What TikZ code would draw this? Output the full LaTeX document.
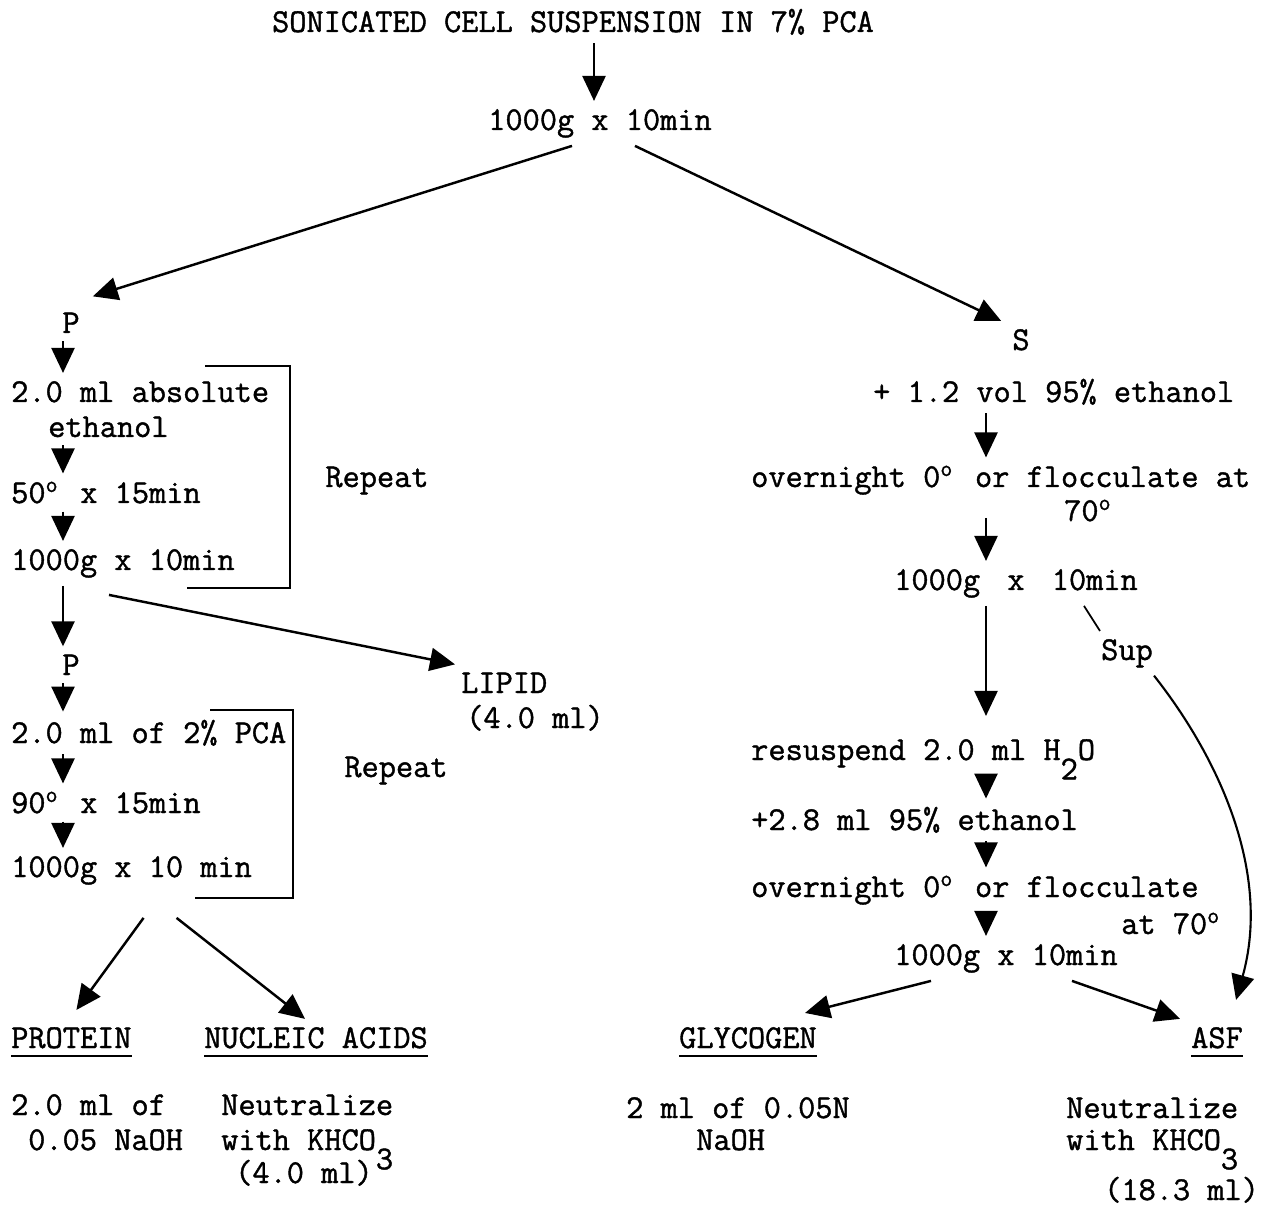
\documentclass[tikz,border=0pt]{standalone}
\usepackage{fontspec}
\setmonofont{Latin Modern Mono}[FakeBold=1.2]
\usetikzlibrary{arrows.meta}

% degree sign, lowered index, thick underline
\newcommand{\dg}{\makebox[0.525em][l]{\textsuperscript{o}}}
\newcommand{\lowr}[1]{\raisebox{-11pt}[0pt][0pt]{#1}}
\newsavebox{\ulbx}
\newcommand{\undl}[1]{\sbox{\ulbx}{#1}\rlap{\rule[-5pt]{\wd\ulbx}{1.3pt}}\usebox{\ulbx}}

\begin{document}
\begin{tikzpicture}[x=0.02cm, y=-0.02cm, line width=1.4pt,
  every node/.style={inner xsep=0pt, inner ysep=4pt, font=\ttfamily\fontsize{19}{19.5}\selectfont},
  txt/.style={anchor=base west},
  ctr/.style={anchor=base},
  tight/.style={inner ysep=0pt},
  flow/.style={-{Triangle[width=0.46cm,length=0.5cm]}},
  brkt/.style={line width=1.6pt}]

  \useasboundingbox (0,0) rectangle (1262,1209);

  % columns of the straight arrows
  \coordinate (colT) at (594,0);
  \coordinate (colL) at (63,0);
  \coordinate (colR) at (986,0);

  % start
  \node[ctr] (top) at (573,32) {SONICATED CELL SUSPENSION IN 7\% PCA};
  \node[ctr] (spin) at (600,130) {1000g x 10min};
  \draw[flow] (top.south -| colT) -- (spin.north -| colT);

  % pellet and supernatant
  \node[ctr] (pel) at (71,333) {P};
  \node[ctr] (supn) at (1021,350) {S};
  \draw[flow] ([xshift=-0.56cm]spin.south) -- ([xshift=0.24cm,yshift=0.16cm]pel.north east);
  \draw[flow] ([xshift=0.7cm]spin.south) -- ([xshift=-0.2cm]supn.north west);

  % left branch, first wash
  \node[txt] (eth1) at (10,402) {2.0 ml absolute};
  \node[txt] (eth2) at (47,437) {ethanol};
  \node[txt] (heat1) at (10,503) {50\dg{} x 15min};
  \node[txt] (spin1) at (10,570) {1000g x 10min};
  \draw[flow] (pel.south -| colL) -- (eth1.north -| colL);
  \draw[flow] (eth2.south -| colL) -- (heat1.north -| colL);
  \draw[flow] (heat1.south -| colL) -- (spin1.north -| colL);

  % repeat bracket
  \draw[brkt] (205,366) -- (290,366) -- (290,588) -- (187,588);
  \node[ctr] (rep1) at (377,487) {Repeat};

  % lipid
  \node[ctr] (pel2) at (71,675) {P};
  \node[txt] (lipid) at (460,693) {LIPID};
  \node[txt] (lipidv) at (465,728) {(4.0 ml)};
  \draw[flow] (spin1.south -| colL) -- (pel2.north -| colL);
  \draw[flow] ([xshift=-0.28cm,yshift=-0.18cm]spin1.south) -- ([xshift=-0.1cm]lipid.north west);

  % left branch, second wash
  \node[txt] (pca1) at (10,743) {2.0 ml of 2\% PCA};
  \node[txt] (heat2) at (10,813) {90\dg{} x 15min};
  \node[txt] (spin2) at (10,877) {1000g x 10 min};
  \draw[flow] (pel2.south -| colL) -- (pca1.north -| colL);
  \draw[flow] (pca1.south -| colL) -- (heat2.north -| colL);
  \draw[flow] (heat2.south -| colL) -- (spin2.north -| colL);

  % second repeat bracket
  \draw[brkt] (210,710) -- (293,710) -- (293,898) -- (195,898);
  \node[ctr] (rep2) at (396,777) {Repeat};

  % protein and nucleic acids
  \node[txt] (prot) at (10,1048) {\undl{PROTEIN}};
  \node[txt] (nucl) at (203,1048) {\undl{NUCLEIC ACIDS}};
  \draw[flow] ([xshift=0.24cm,yshift=-0.5cm]spin2.south) -- ([xshift=0.1cm,yshift=0.18cm]prot.north);
  \draw[flow] ([xshift=0.9cm,yshift=-0.5cm]spin2.south) -- ([xshift=-0.22cm]nucl.north);

  \node[txt] (prot1) at (10,1115) {2.0 ml of};
  \node[txt] (prot2) at (27,1150) {0.05 NaOH};
  \node[txt] (nucl1) at (220,1115) {Neutralize};
  \node[txt] (nucl2) at (220,1150) {with KHCO\lowr{3}};
  \node[txt, tight] (nucl3) at (234,1183) {(4.0 ml)};

  % right branch
  \node[txt] (etr1) at (872,402) {+ 1.2 vol 95\% ethanol};
  \node[txt] (ovn1) at (750,487) {overnight 0\dg{} or flocculate at};
  \node[txt, tight] (ovn1b) at (1063,521) {70\dg};
  \node[txt] (spin3) at (893,590) {1000g\hspace{0.3em} x\hspace{0.3em} 10min};
  \draw[flow] (etr1.south -| colR) -- (ovn1.north -| colR);
  \draw[flow, shorten <=0.3cm] (ovn1.south -| colR) -- (spin3.north -| colR);

  % supernatant straight to ASF
  \node[ctr] (suplbl) at (1127,660) {Sup};
  \draw[line width=1pt] ([xshift=-1.1cm]spin3.south east) -- (suplbl.north west);

  \node[txt] (resus) at (750,760) {resuspend 2.0 ml H\lowr{2}O};
  \node[txt] (etr2) at (750,830) {+2.8 ml 95\% ethanol};
  \node[txt] (ovn2) at (750,897) {overnight 0\dg{} or flocculate};
  \node[txt, tight] (ovn2b) at (1120,934) {at 70\dg};
  \node[txt] (spin4) at (893,965) {1000g x 10min};
  \draw[flow, shorten >=0.3cm] (spin3.south -| colR) -- (resus.north -| colR);
  \draw[flow] (resus.south -| colR) -- (etr2.north -| colR);
  \draw[flow] (etr2.south -| colR) -- (ovn2.north -| colR);
  \draw[flow] (ovn2.south -| colR) -- (spin4.north -| colR);

  % glycogen and ASF
  \node[txt] (glyc) at (678,1048) {\undl{GLYCOGEN}};
  \node[txt] (asf) at (1190,1048) {\undl{ASF}};
  \draw[flow] ([xshift=-1.5cm]spin4.south) -- ([xshift=-0.26cm,yshift=0.12cm]glyc.north east);
  \draw[flow] ([xshift=1.32cm]spin4.south) -- ([xshift=-0.2cm]asf.north west);
  \draw[flow, line width=1.2pt] (suplbl.south east) .. controls +(67,85) and +(35,-125) .. ([xshift=-0.16cm,yshift=0.38cm]asf.north east);

  \node[txt] (glyc1) at (625,1118) {2 ml of 0.05N};
  \node[txt] (glyc2) at (695,1150) {NaOH};
  \node[txt] (asf1) at (1065,1118) {Neutralize};
  \node[txt] (asf2) at (1065,1150) {with KHCO\lowr{3}};
  \node[txt, tight] (asf3) at (1103,1200) {(18.3 ml)};

\end{tikzpicture}
\end{document}
